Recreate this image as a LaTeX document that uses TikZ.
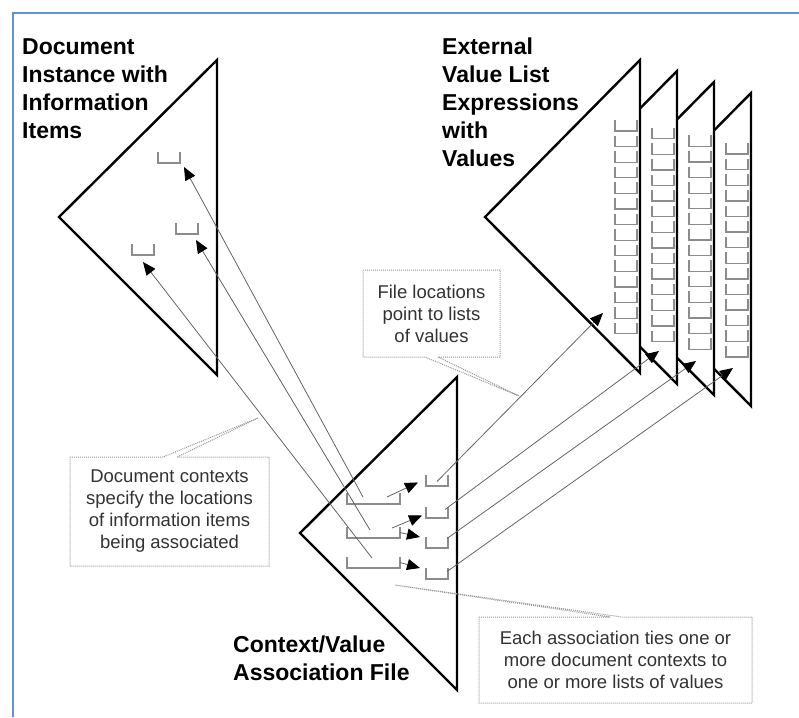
\documentclass[tikz,border=0pt]{standalone}
\usepackage{fontspec}
\setmainfont{Liberation Sans}
\usetikzlibrary{arrows.meta}

\definecolor{frameblue}{RGB}{105,145,210}
\definecolor{slotgray}{RGB}{140,140,140}
\definecolor{linkgray}{RGB}{100,100,100}
\definecolor{notegray}{RGB}{150,150,150}
\definecolor{notetext}{RGB}{50,50,50}

\tikzset{
  frame/.style={draw=frameblue, line width=1.5pt},
  docshape/.style={draw=black, line width=2.4pt, fill=white, line join=miter},
  slotline/.style={draw=slotgray, line width=1.3pt},
  link/.style={draw=linkgray, line width=0.8pt, -{Triangle[length=13pt,width=11pt,color=black]}},
  note/.style={draw=notegray, line width=1pt, dash pattern=on 1pt off 1pt},
  notetext/.style={text=notetext, align=center, inner sep=0pt,
    font=\fontsize{18.5}{22}\selectfont},
  title/.style={align=left, inner sep=0pt, anchor=base west,
    font=\fontsize{23}{28}\selectfont\bfseries},
}

% an open value slot: name, left, top [width]
\newcommand{\slotat}[4][22]{%
  \node[minimum width=#1pt, minimum height=11pt, inner sep=0pt, outer sep=0pt,
    anchor=north west] (#2) at ({#3},{#4}) {};
  \draw[slotline] (#2.north west) -- (#2.south west) -- (#2.south east) -- (#2.north east);}

\begin{document}
\begin{tikzpicture}[x=1pt,y=-1pt]
  \useasboundingbox (0,0) rectangle (799,717);

  \draw[frame] (13,717) -- (13,13) -- (799,13);

  % document instance
  \draw[docshape] (217,60) -- (59,217) -- (217,375) -- cycle;
  \slotat{item1}{158}{152}
  \slotat{item2}{176}{223}
  \slotat{item3}{132}{244}

  % external value lists, back to front
  \foreach \k in {3,2,1,0} {
    \draw[docshape] ({640+37*\k},{60+11*\k}) -- ({485+37*\k},{217+11*\k})
      -- ({640+37*\k},{373+11*\k}) -- cycle;
    \foreach \j in {0,...,13} {
      \slotat{list\k-\j}{615+37*\k}{120+7.7*\k+15.6*\j}
    }
  }

  % context/value association file
  \draw[docshape] (457,377) -- (300,533) -- (457,690) -- cycle;
  \slotat[53]{ctx1}{347}{493}
  \slotat[53]{ctx2}{347}{527}
  \slotat[53]{ctx3}{347}{557}
  \slotat{loc1}{426}{475}
  \slotat{loc2}{426}{507}
  \slotat{loc3}{426}{537}
  \slotat{loc4}{426}{568}

  % targets
  \coordinate (tip1) at (184,167);
  \coordinate (tip2) at (196,240);
  \coordinate (tip3) at (143,262);
  \coordinate (val1) at (603,313);
  \coordinate (val2) at (659,351);
  \coordinate (val3) at (696,361);
  \coordinate (val4) at (733,368);

  % contexts to items
  \draw[link] ([shift={(16,4)}]ctx1.north west) -- (tip1);
  \draw[link] ([shift={(23,3)}]ctx2.north west) -- (tip2);
  \draw[link] ([shift={(25,1)}]ctx3.north west) -- (tip3);

  % contexts to locations
  \draw[link] ([shift={(-13,4)}]ctx1.north east) -- ([shift={(-8,2)}]loc1.west);
  \draw[link] ([shift={(-8,1)}]ctx2.north east) -- ([shift={(-4,3)}]loc2.west);
  \draw[link] (ctx2.east) -- ([shift={(-6,0)}]loc3.north west);
  \draw[link] (ctx3.east) -- ([shift={(-6,0)}]loc4.north west);

  % locations to value lists
  \draw[link] ([shift={(0,1)}]loc1.center) -- (val1);
  \draw[link] ([shift={(8,-3)}]loc2.center) -- (val2);
  \draw[link] ([shift={(10,-4)}]loc3.center) -- (val3);
  \draw[link] ([shift={(10,-2)}]loc4.center) -- (val4);

  % callouts
  \draw[note] (363,270) -- (500,270) -- (500,357) -- (438,357) -- (519,396)
    -- (425,357) -- (363,357) -- cycle;
  \node[notetext] (filenote) at (431.5,313.5) {File locations\\point to lists\\of values};

  \draw[note] (70,457) -- (163,457) -- (258,418) -- (177,457) -- (269,457)
    -- (269,566) -- (70,566) -- cycle;
  \node[notetext] (ctxnote) at (169.5,511.5)
    {Document contexts\\specify the locations\\of information items\\being associated};

  \draw[note] (479,617) -- (610,617) -- (395,585) -- (622,617) -- (752,617)
    -- (752,703) -- (479,703) -- cycle;
  \node[notetext] (assocnote) at (615.5,660)
    {Each association ties one or\\more document contexts to\\one or more lists of values};

  % titles (placed by the baseline of their last line)
  \node[title] (doctitle) at (22,138) {Document\\Instance with\\Information\\Items};
  \node[title] (listtitle) at (442,166) {External\\Value List\\Expressions\\with\\Values};
  \node[title] (assoctitle) at (233,680) {Context/Value\\Association File};
\end{tikzpicture}
\end{document}
